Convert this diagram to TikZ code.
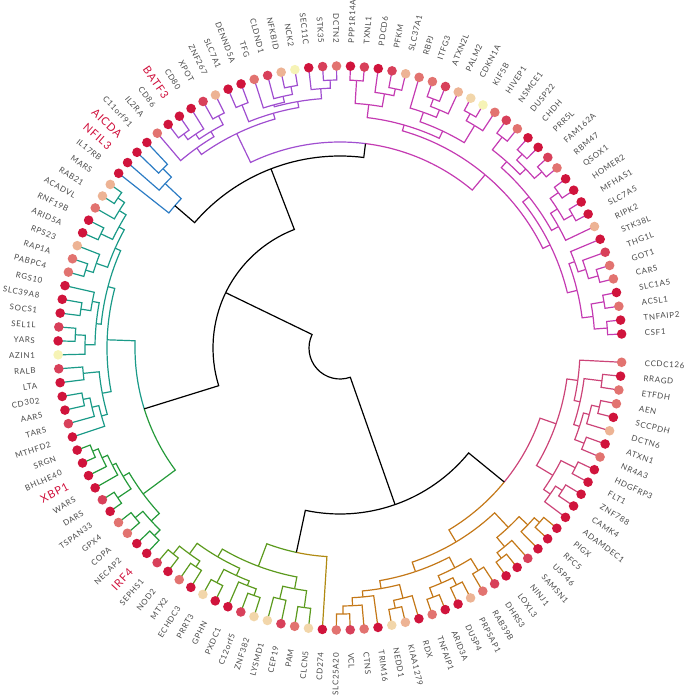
\documentclass[tikz,border=0pt]{standalone}
\usepackage{fontspec}
\usepackage{tikz}
\newfontfamily\labfont[LetterSpace=8]{Lato}
\definecolor{dotA}{HTML}{D0143C}
\definecolor{dotB}{HTML}{D8405A}
\definecolor{dotC}{HTML}{E27370}
\definecolor{dotD}{HTML}{EDB394}
\definecolor{dotE}{HTML}{F6F3B6}
\definecolor{dotF}{HTML}{F2D6AA}
\definecolor{cMag}{HTML}{C43BB2}
\definecolor{cPur}{HTML}{A04ED0}
\definecolor{cBlu}{HTML}{2C7CC4}
\definecolor{cTea}{HTML}{1A9A88}
\definecolor{cGrn}{HTML}{259A3A}
\definecolor{cOli}{HTML}{5C9A1E}
\definecolor{cGld}{HTML}{B08A12}
\definecolor{cOra}{HTML}{C47818}
\definecolor{cRos}{HTML}{CC4478}
\definecolor{labgray}{HTML}{4A4A4A}
\definecolor{tfred}{HTML}{D0103C}
\tikzset{
  branch/.style={line width=1.2pt},
  leafdot/.style={circle, inner sep=0pt, minimum size=9.6pt, draw=none},
  labn/.style={inner sep=0pt, text=labgray, font=\labfont\fontsize{8}{9}\selectfont},
  labt/.style={inner sep=0pt, text=tfred, font=\labfont\fontsize{11}{12}\selectfont}
}
% position (leaf index) and radius of every tree node
\newcommand\setnd[3]{\expandafter\xdef\csname pp#1\endcsname{#2}\expandafter\xdef\csname rr#1\endcsname{#3}}
% join two named children into a new node at radius #6
\newcommand\br[6]{%
  \edef\bpA{\csname pp#4\endcsname}\edef\bpB{\csname pp#5\endcsname}%
  \pgfmathsetmacro\baA{-2.9-(\bpA-1)*2.834}%
  \pgfmathsetmacro\baB{-2.9-(\bpB-1)*2.834}%
  \pgfmathsetmacro\baM{(\baA+\baB)/2}%
  \pgfmathsetmacro\bpM{(\bpA+\bpB)/2}%
  \setnd{#1}{\bpM}{#6}%
  \coordinate (#1) at (\baM:#6);
  \draw[branch,#2] (#4.center) -- (\baA:#6) arc[start angle=\baA, end angle=\baM, radius=#6pt];
  \draw[branch,#3] (#5.center) -- (\baB:#6) arc[start angle=\baB, end angle=\baM, radius=#6pt];
}
\newcommand\leaves{1/CCDC126/C/n, 2/RRAGD/A/n, 3/ETFDH/C/n, 4/AEN/C/n, 5/SCCPDH/A/n, 6/DCTN6/D/n, 7/ATXN1/A/n, 8/NR4A3/C/n, 9/HDGFRP3/A/n, 10/FLT1/A/n, 11/ZNF788/A/n, 12/CAMK4/A/n, 13/ADAMDEC1/A/n, 14/PIGX/A/n, 15/RFC5/A/n, 16/USP46/A/n, 17/SAMSN1/B/n, 18/NINJ1/A/n, 19/LOXL3/A/n, 20/DHRS3/B/n, 21/RAB39B/C/n, 22/PRPSAP1/D/n, 23/DUSP4/A/n, 24/ARID3A/A/n, 25/TNFAIP1/C/n, 26/RDX/A/n, 27/KIAA1279/D/n, 28/NEDD1/F/n, 29/TRIM16/A/n, 30/CTNS/C/n, 31/VCL/B/n, 32/SLC25A20/C/n, 33/CD274/A/n, 34/CLCN5/F/n, 35/PAM/C/n, 36/CEP19/B/n, 37/LYSMD1/F/n, 38/ZNF382/F/n, 39/C12orf5/B/n, 40/PXDC1/A/n, 41/GPHN/A/n, 42/PRRT3/F/n, 43/ECHDC3/A/n, 44/MTX2/C/n, 45/NOD2/A/n, 46/SEPHS1/B/n, 47/IRF4/A/t, 48/NECAP2/A/n, 49/COPA/C/n, 50/GPX4/C/n, 51/TSPAN33/A/n, 52/DARS/B/n, 53/WARS/A/n, 54/XBP1/A/t, 55/BHLHE40/A/n, 56/SRGN/A/n, 57/MTHFD2/A/n, 58/TARS/B/n, 59/AARS/A/n, 60/CD302/A/n, 61/LTA/A/n, 62/RALB/B/n, 63/AZIN1/E/n, 64/YARS/A/n, 65/SEL1L/B/n, 66/SOCS1/A/n, 67/SLC39A8/A/n, 68/RGS10/A/n, 69/PABPC4/C/n, 70/RAP1A/C/n, 71/RPS23/D/n, 72/ARID5A/A/n, 73/RNF19B/A/n, 74/ACADVL/C/n, 75/RAB21/D/n, 76/MARS/D/n, 77/IL17RB/A/n, 78/NFIL3/A/t, 79/AICDA/A/t, 80/C11orf91/A/n, 81/IL2RA/C/n, 82/CD86/A/n, 83/BATF3/A/t, 84/CD80/A/n, 85/XPOT/B/n, 86/ZNF267/D/n, 87/SLC7A1/A/n, 88/DENND5A/A/n, 89/TFG/C/n, 90/CLDND1/B/n, 91/NFKBID/D/n, 92/NCK2/E/n, 93/SEC11C/A/n, 94/STK35/B/n, 95/DCTN2/C/n, 96/PPP1R14A/A/n, 97/TXNL1/B/n, 98/PDCD6/A/n, 99/PFKM/B/n, 100/SLC37A1/D/n, 101/RBPJ/C/n, 102/ITFG3/C/n, 103/ATXN2L/B/n, 104/PALM2/D/n, 105/CDKN1A/F/n, 106/KIF5B/E/n, 107/HIVEP1/C/n, 108/NSMCE1/B/n, 109/DUSP22/C/n, 110/CHDH/A/n, 111/PRR5L/A/n, 112/FAM162A/B/n, 113/RBM47/C/n, 114/QSOX1/A/n, 115/HOMER2/A/n, 116/MFHAS1/A/n, 117/SLC7A5/A/n, 118/RIPK2/D/n, 119/STK38L/A/n, 120/THG1L/B/n, 121/GOT1/C/n, 122/CARS/C/n, 123/SLC1A5/A/n, 124/ACSL1/C/n, 125/TNFAIP2/A/n, 126/CSF1/A/n}

\begin{document}
\begin{tikzpicture}[x=1pt, y=1pt]
\useasboundingbox (-340,-351) rectangle (345,348);

% leaves and gene names
\foreach \i/\nm/\c/\s in \leaves {
  \pgfmathsetmacro\leafang{-2.9-(\i-1)*2.834}
  \setnd{l\i}{\i}{282}
  \coordinate (l\i) at (\leafang:282);
  \pgfmathtruncatemacro\side{cos(\leafang)>=0}
  \ifnum\side=1
    \node[lab\s, anchor=west, rotate=\leafang] (t\i) at (\leafang:305) {\nm};
  \else
    \pgfmathsetmacro\labrot{\leafang+180}
    \node[lab\s, anchor=east, rotate=\labrot] (t\i) at (\leafang:305) {\nm};
  \fi
}

% rose
\br{r1}{cRos}{cRos}{l2}{l3}{264}
\br{r2}{cRos}{cRos}{l4}{l5}{266}
\br{r3}{cRos}{cRos}{r2}{l6}{258}
\br{r4}{cRos}{cRos}{l7}{l8}{262}
\br{r5}{cRos}{cRos}{r3}{r4}{252}
\br{r6}{cRos}{cRos}{r1}{r5}{246}
\br{r7}{cRos}{cRos}{l1}{r6}{240}
\br{r8}{cRos}{cRos}{l9}{l10}{264}
\br{r9}{cRos}{cRos}{l11}{l12}{264}
\br{r10}{cRos}{cRos}{r9}{l13}{256}
\br{r11}{cRos}{cRos}{r8}{r10}{248}
\br{rosec}{cRos}{cRos}{r7}{r11}{229}
% orange
\br{o1}{cOra}{cOra}{l14}{l15}{265}
\br{o2}{cOra}{cOra}{o1}{l16}{258}
\br{o3}{cOra}{cOra}{l18}{l19}{265}
\br{o4}{cOra}{cOra}{l17}{o3}{258}
\br{o5}{cOra}{cOra}{o2}{o4}{246}
\br{o6}{cOra}{cOra}{l20}{l21}{262}
\br{o7}{cOra}{cOra}{l22}{l23}{264}
\br{o8}{cOra}{cOra}{l24}{l25}{266}
\br{o9}{cOra}{cOra}{o7}{o8}{256}
\br{o10}{cOra}{cOra}{o6}{o9}{248}
\br{o11}{cOra}{cOra}{l27}{l28}{266}
\br{o12}{cOra}{cOra}{l26}{o11}{258}
\br{o13}{cOra}{cOra}{l31}{l32}{266}
\br{o14}{cOra}{cOra}{l30}{o13}{258}
\br{o15}{cOra}{cOra}{l29}{o14}{250}
\br{o16}{cOra}{cOra}{o12}{o15}{244}
\br{o17}{cOra}{cOra}{o10}{o16}{236}
\br{orngc}{cOra}{cOra}{o5}{o17}{226}
\br{ro}{cRos}{cOra}{rosec}{orngc}{212}
% olive and CD274
\br{v1}{cOli}{cOli}{l34}{l35}{262}
\br{v2}{cOli}{cOli}{l36}{l37}{258}
\br{v3}{cOli}{cOli}{v1}{v2}{245}
\br{v4}{cOli}{cOli}{l38}{l39}{262}
\br{v5}{cOli}{cOli}{v4}{l40}{255}
\br{v6}{cOli}{cOli}{l41}{l42}{265}
\br{v7}{cOli}{cOli}{v5}{v6}{250}
\br{v8}{cOli}{cOli}{l43}{l44}{262}
\br{v9}{cOli}{cOli}{l45}{l46}{265}
\br{v10}{cOli}{cOli}{v8}{v9}{255}
\br{v11}{cOli}{cOli}{v7}{v10}{242}
\br{olivc}{cOli}{cOli}{v3}{v11}{233}
\br{og}{cGld}{cOli}{l33}{olivc}{209}
\br{rr}{black}{black}{ro}{og}{166}
% green
\br{g1}{cGrn}{cGrn}{l55}{l56}{268}
\br{g2}{cGrn}{cGrn}{l54}{g1}{262}
\br{g3}{cGrn}{cGrn}{l53}{g2}{256}
\br{g4}{cGrn}{cGrn}{l51}{l52}{268}
\br{g5}{cGrn}{cGrn}{g4}{g3}{252}
\br{g6}{cGrn}{cGrn}{l49}{l50}{266}
\br{g7}{cGrn}{cGrn}{l47}{l48}{264}
\br{g8}{cGrn}{cGrn}{g7}{g6}{256}
\br{grnc}{cGrn}{cGrn}{g8}{g5}{245}
% teal
\br{t1}{cTea}{cTea}{l61}{l62}{258}
\br{t2}{cTea}{cTea}{l59}{l60}{262}
\br{t3}{cTea}{cTea}{l58}{t2}{255}
\br{t4}{cTea}{cTea}{l57}{t3}{248}
\br{t5}{cTea}{cTea}{t4}{t1}{242}
\br{t6}{cTea}{cTea}{l64}{l65}{265}
\br{t7}{cTea}{cTea}{l63}{t6}{255}
\br{t8}{cTea}{cTea}{l66}{l67}{262}
\br{t9}{cTea}{cTea}{t8}{l68}{252}
\br{t10}{cTea}{cTea}{t7}{t9}{245}
\br{t11}{cTea}{cTea}{l69}{l70}{266}
\br{t12}{cTea}{cTea}{t11}{l71}{258}
\br{t13}{cTea}{cTea}{l72}{l73}{265}
\br{t14}{cTea}{cTea}{l75}{l76}{268}
\br{t15}{cTea}{cTea}{l74}{t14}{260}
\br{t16}{cTea}{cTea}{t13}{t15}{252}
\br{t17}{cTea}{cTea}{t12}{t16}{246}
\br{t18}{cTea}{cTea}{t10}{t17}{240}
\br{tealc}{cTea}{cTea}{t5}{t18}{233}
\br{bl}{cGrn}{cTea}{grnc}{tealc}{205}
% blue
\br{b1}{cBlu}{cBlu}{l79}{l80}{252}
\br{b2}{cBlu}{cBlu}{l78}{b1}{240}
\br{bluec}{cBlu}{cBlu}{l77}{b2}{218}
% purple
\br{p1}{cPur}{cPur}{l82}{l83}{265}
\br{p2}{cPur}{cPur}{p1}{l84}{258}
\br{p3}{cPur}{cPur}{l85}{l86}{262}
\br{p4}{cPur}{cPur}{p2}{p3}{252}
\br{p5}{cPur}{cPur}{l81}{p4}{246}
\br{p6}{cPur}{cPur}{l87}{l88}{262}
\br{p7}{cPur}{cPur}{l91}{l92}{266}
\br{p8}{cPur}{cPur}{l90}{p7}{258}
\br{p9}{cPur}{cPur}{l89}{p8}{252}
\br{p10}{cPur}{cPur}{l94}{l95}{268}
\br{p11}{cPur}{cPur}{l93}{p10}{260}
\br{p12}{cPur}{cPur}{p9}{p11}{250}
\br{p13}{cPur}{cPur}{p6}{p12}{244}
\br{purpc}{cPur}{cPur}{p5}{p13}{238}
% magenta
\br{m1}{cMag}{cMag}{l96}{l97}{268}
\br{m2}{cMag}{cMag}{l99}{l100}{265}
\br{m3}{cMag}{cMag}{l98}{m2}{258}
\br{m4}{cMag}{cMag}{m1}{m3}{245}
\br{m5}{cMag}{cMag}{l102}{l103}{266}
\br{m6}{cMag}{cMag}{m5}{l104}{258}
\br{m7}{cMag}{cMag}{l101}{m6}{250}
\br{m8}{cMag}{cMag}{l105}{l106}{268}
\br{m9}{cMag}{cMag}{m8}{l107}{260}
\br{m10}{cMag}{cMag}{m7}{m9}{240}
\br{m11}{cMag}{cMag}{m4}{m10}{232}
\br{m12}{cMag}{cMag}{l108}{l109}{266}
\br{m13}{cMag}{cMag}{l110}{l111}{266}
\br{m14}{cMag}{cMag}{l112}{l113}{268}
\br{m15}{cMag}{cMag}{m13}{m14}{258}
\br{m16}{cMag}{cMag}{m12}{m15}{250}
\br{m17}{cMag}{cMag}{l114}{l115}{268}
\br{m18}{cMag}{cMag}{l116}{l117}{268}
\br{m19}{cMag}{cMag}{m17}{m18}{258}
\br{m20}{cMag}{cMag}{m19}{l118}{250}
\br{m21}{cMag}{cMag}{m16}{m20}{242}
\br{m22}{cMag}{cMag}{l121}{l122}{268}
\br{m23}{cMag}{cMag}{l120}{m22}{258}
\br{m24}{cMag}{cMag}{l119}{m23}{250}
\br{m25}{cMag}{cMag}{l123}{l124}{268}
\br{m26}{cMag}{cMag}{l125}{l126}{268}
\br{m27}{cMag}{cMag}{m25}{m26}{255}
\br{m28}{cMag}{cMag}{m24}{m27}{244}
\br{m29}{cMag}{cMag}{m21}{m28}{234}
\br{magc}{cMag}{cMag}{m11}{m29}{226}
\br{pm}{cPur}{cMag}{purpc}{magc}{206}
% backbone
\br{tt}{black}{black}{bluec}{pm}{192}
\br{lt}{black}{black}{bl}{tt}{127}
\br{root}{black}{black}{rr}{lt}{31}

% coloured dots on top
\foreach \i/\nm/\c/\s in \leaves {
  \node[leafdot, fill=dot\c] (d\i) at (l\i) {};
}
\end{tikzpicture}
\end{document}
